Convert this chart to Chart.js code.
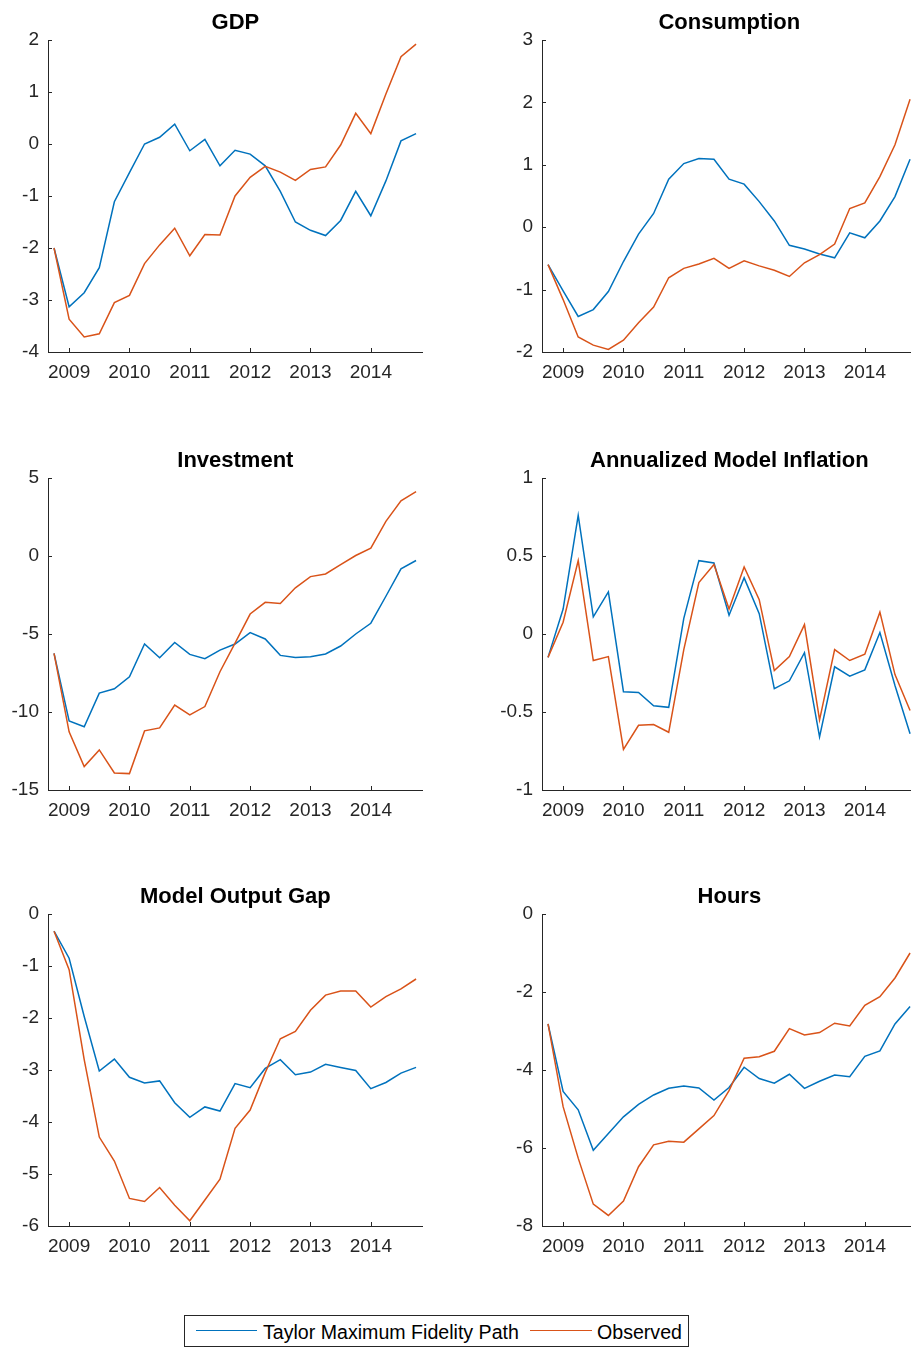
<!DOCTYPE html>
<html>
<head>
<meta charset="utf-8">
<script src="https://cdn.jsdelivr.net/npm/chart.js@4.4.1/dist/chart.umd.min.js"></script>
<style>
html,body{margin:0;padding:0;background:#fff;overflow:hidden;width:911px;height:1347px;}
canvas.panel{position:absolute;}
#legend{position:absolute;left:184px;top:1315px;width:505px;height:32px;box-sizing:border-box;border:1px solid #262626;background:#fff;
  font-family:"Liberation Sans",Arial,Helvetica,sans-serif;font-size:19.6px;color:#000;}
#legend .ln{position:absolute;height:0;border-top:1.5px solid;top:14px;}
#legend .tx{position:absolute;top:1px;line-height:30px;white-space:nowrap;}
</style>
</head>
<body>
<canvas id="c0" class="panel" width="440" height="390" style="left:0px;top:0px;width:440px;height:390px"></canvas>
<canvas id="c1" class="panel" width="440" height="390" style="left:494px;top:0px;width:440px;height:390px"></canvas>
<canvas id="c2" class="panel" width="440" height="390" style="left:0px;top:437.7px;width:440px;height:390px"></canvas>
<canvas id="c3" class="panel" width="440" height="390" style="left:494px;top:437.7px;width:440px;height:390px"></canvas>
<canvas id="c4" class="panel" width="440" height="390" style="left:0px;top:874.3px;width:440px;height:390px"></canvas>
<canvas id="c5" class="panel" width="440" height="390" style="left:494px;top:874.3px;width:440px;height:390px"></canvas>
<div id="legend">
  <div class="ln" id="ln0" style="left:11px;width:61px;"></div>
  <div class="tx" id="tx0" style="left:78px;"></div>
  <div class="ln" id="ln1" style="left:345px;width:62px;"></div>
  <div class="tx" id="tx1" style="left:412px;"></div>
</div>
<script>
// ---- data ----
const quarters = [2008.75, 2009.00, 2009.25, 2009.50, 2009.75, 2010.00, 2010.25, 2010.50, 2010.75,
                  2011.00, 2011.25, 2011.50, 2011.75, 2012.00, 2012.25, 2012.50, 2012.75,
                  2013.00, 2013.25, 2013.50, 2013.75, 2014.00, 2014.25, 2014.50, 2014.75];
const yearTicks = [2009, 2010, 2011, 2012, 2013, 2014];
const seriesNames = ['Taylor Maximum Fidelity Path', 'Observed'];

const gdpTicks = [-4, -3, -2, -1, 0, 1, 2];
const gdpTaylor = [-2.0,-3.13,-2.86,-2.38,-1.11,-0.55,0.0,0.13,0.38,-0.13,0.09,-0.42,-0.12,-0.195,-0.42,-0.91,-1.50,-1.66,-1.76,-1.47,-0.91,-1.38,-0.71,0.06,0.20];
const gdpObserved = [-2.0,-3.37,-3.71,-3.65,-3.05,-2.91,-2.30,-1.94,-1.62,-2.15,-1.74,-1.75,-1.0,-0.64,-0.43,-0.54,-0.70,-0.49,-0.44,-0.02,0.59,0.20,0.96,1.68,1.92];

const consTicks = [-2, -1, 0, 1, 2, 3];
const consTaylor = [-0.60,-1.02,-1.43,-1.32,-1.03,-0.55,-0.11,0.22,0.77,1.02,1.10,1.09,0.77,0.69,0.41,0.10,-0.29,-0.35,-0.43,-0.49,-0.09,-0.17,0.10,0.49,1.09];
const consObserved = [-0.60,-1.16,-1.76,-1.89,-1.96,-1.81,-1.53,-1.28,-0.81,-0.66,-0.59,-0.50,-0.66,-0.54,-0.62,-0.69,-0.79,-0.57,-0.44,-0.27,0.30,0.39,0.81,1.32,2.05];

const invTicks = [-15, -10, -5, 0, 5];
const invTaylor = [-6.24,-10.57,-10.95,-8.79,-8.51,-7.74,-5.64,-6.52,-5.54,-6.31,-6.58,-6.03,-5.64,-4.91,-5.32,-6.37,-6.50,-6.46,-6.28,-5.77,-5.00,-4.31,-2.58,-0.82,-0.29];
const invObserved = [-6.24,-11.27,-13.50,-12.43,-13.91,-13.95,-11.21,-11.02,-9.56,-10.18,-9.65,-7.42,-5.58,-3.72,-2.97,-3.05,-2.04,-1.32,-1.15,-0.55,0.03,0.50,2.22,3.54,4.12];

const inflTicks = [-1, -0.5, 0, 0.5, 1];
const inflTaylor = [-0.15,0.16,0.76,0.11,0.27,-0.37,-0.375,-0.46,-0.47,0.10,0.47,0.455,0.12,0.36,0.13,-0.35,-0.30,-0.12,-0.66,-0.21,-0.27,-0.23,0.01,-0.33,-0.64];
const inflObserved = [-0.15,0.075,0.47,-0.17,-0.145,-0.74,-0.585,-0.58,-0.63,-0.10,0.33,0.445,0.16,0.43,0.22,-0.235,-0.145,0.06,-0.55,-0.10,-0.17,-0.13,0.14,-0.26,-0.49];

const gapTicks = [-6, -5, -4, -3, -2, -1, 0];
const gapTaylor = [-0.33,-0.85,-1.97,-3.02,-2.79,-3.14,-3.25,-3.21,-3.63,-3.91,-3.71,-3.79,-3.26,-3.34,-2.97,-2.80,-3.09,-3.04,-2.89,-2.95,-3.01,-3.36,-3.24,-3.06,-2.95];
const gapObserved = [-0.33,-1.07,-2.80,-4.29,-4.75,-5.47,-5.53,-5.26,-5.60,-5.90,-5.50,-5.10,-4.12,-3.77,-3.05,-2.40,-2.26,-1.85,-1.56,-1.48,-1.48,-1.79,-1.59,-1.44,-1.25];

const hoursTicks = [-8, -6, -4, -2, 0];
const hoursTaylor = [-2.82,-4.55,-5.02,-6.06,-5.63,-5.20,-4.88,-4.64,-4.47,-4.41,-4.46,-4.77,-4.45,-3.93,-4.22,-4.34,-4.11,-4.47,-4.29,-4.13,-4.17,-3.65,-3.51,-2.82,-2.37];
const hoursObserved = [-2.82,-4.94,-6.26,-7.44,-7.73,-7.36,-6.48,-5.92,-5.83,-5.85,-5.51,-5.17,-4.53,-3.70,-3.66,-3.52,-2.94,-3.10,-3.04,-2.80,-2.87,-2.34,-2.12,-1.64,-1.00];

// ---- style ----
const FONT = '"Liberation Sans", Arial, Helvetica, sans-serif';
const COLORS = ['#0072BD', '#D95319'];
const AXIS = '#262626';
const X_MIN = 2008.65, X_MAX = 2014.86;

const panels = [
  {id:'c0', title:'GDP', ticks:gdpTicks, a:gdpTaylor, b:gdpObserved},
  {id:'c1', title:'Consumption', ticks:consTicks, a:consTaylor, b:consObserved},
  {id:'c2', title:'Investment', ticks:invTicks, a:invTaylor, b:invObserved},
  {id:'c3', title:'Annualized Model Inflation', ticks:inflTicks, a:inflTaylor, b:inflObserved},
  {id:'c4', title:'Model Output Gap', ticks:gapTicks, a:gapTaylor, b:gapObserved},
  {id:'c5', title:'Hours', ticks:hoursTicks, a:hoursTaylor, b:hoursObserved}
];

const inwardTicks = {
  id: 'inwardTicks',
  afterDraw(chart) {
    const {ctx, chartArea: ca, scales: {x, y}} = chart;
    ctx.save();
    ctx.strokeStyle = AXIS;
    ctx.lineWidth = 1;
    ctx.beginPath();
    x.ticks.forEach(t => {
      const px = Math.round(x.getPixelForValue(t.value)) + 0.5;
      ctx.moveTo(px, ca.bottom); ctx.lineTo(px, ca.bottom - 4);
    });
    y.ticks.forEach(t => {
      const py = Math.round(y.getPixelForValue(t.value)) + 0.5;
      ctx.moveTo(ca.left, py); ctx.lineTo(ca.left + 4, py);
    });
    ctx.stroke();
    ctx.restore();
  }
};

function series(values) {
  return quarters.map((q, i) => ({x: q, y: values[i]}));
}

panels.forEach(p => {
  new Chart(document.getElementById(p.id), {
    type: 'line',
    data: {
      datasets: [
        {label: seriesNames[0], data: series(p.a), borderColor: COLORS[0], backgroundColor: COLORS[0],
         borderWidth: 1.5, pointRadius: 0, tension: 0, fill: false, order: 1},
        {label: seriesNames[1], data: series(p.b), borderColor: COLORS[1], backgroundColor: COLORS[1],
         borderWidth: 1.5, pointRadius: 0, tension: 0, fill: false, order: 0}
      ]
    },
    options: {
      responsive: false,
      animation: false,
      events: [],
      layout: {padding: {left: 0, right: 17.3, top: 0, bottom: 0}},
      plugins: {
        legend: {display: false},
        tooltip: {enabled: false},
        title: {display: true, text: p.title, fullSize: false, color: '#000',
                font: {family: FONT, size: 22, weight: 'bold'}, padding: {top: 9.5, bottom: 4.1}}
      },
      scales: {
        x: {
          type: 'linear', min: X_MIN, max: X_MAX,
          afterBuildTicks: s => { s.ticks = yearTicks.map(v => ({value: v})); },
          afterFit: s => { s.height = 38; },
          grid: {display: false, drawTicks: false},
          border: {display: true, color: AXIS, width: 1},
          ticks: {padding: 9.5, color: AXIS, font: {family: FONT, size: 19}, maxRotation: 0, autoSkip: false,
                  callback: v => String(v)}
        },
        y: {
          type: 'linear', min: p.ticks[0], max: p.ticks[p.ticks.length - 1],
          afterBuildTicks: s => { s.ticks = p.ticks.map(v => ({value: v})); },
          afterFit: s => { s.width = 48; },
          grid: {display: false, drawTicks: false},
          border: {display: true, color: AXIS, width: 1},
          ticks: {padding: 9, color: AXIS, font: {family: FONT, size: 19}, autoSkip: false,
                  callback: v => String(v)}
        }
      }
    },
    plugins: [inwardTicks]
  });
});

// legend (HTML)
document.getElementById('ln0').style.borderColor = COLORS[0];
document.getElementById('ln1').style.borderColor = COLORS[1];
document.getElementById('tx0').textContent = seriesNames[0];
document.getElementById('tx1').textContent = seriesNames[1];
</script>
</body>
</html>
